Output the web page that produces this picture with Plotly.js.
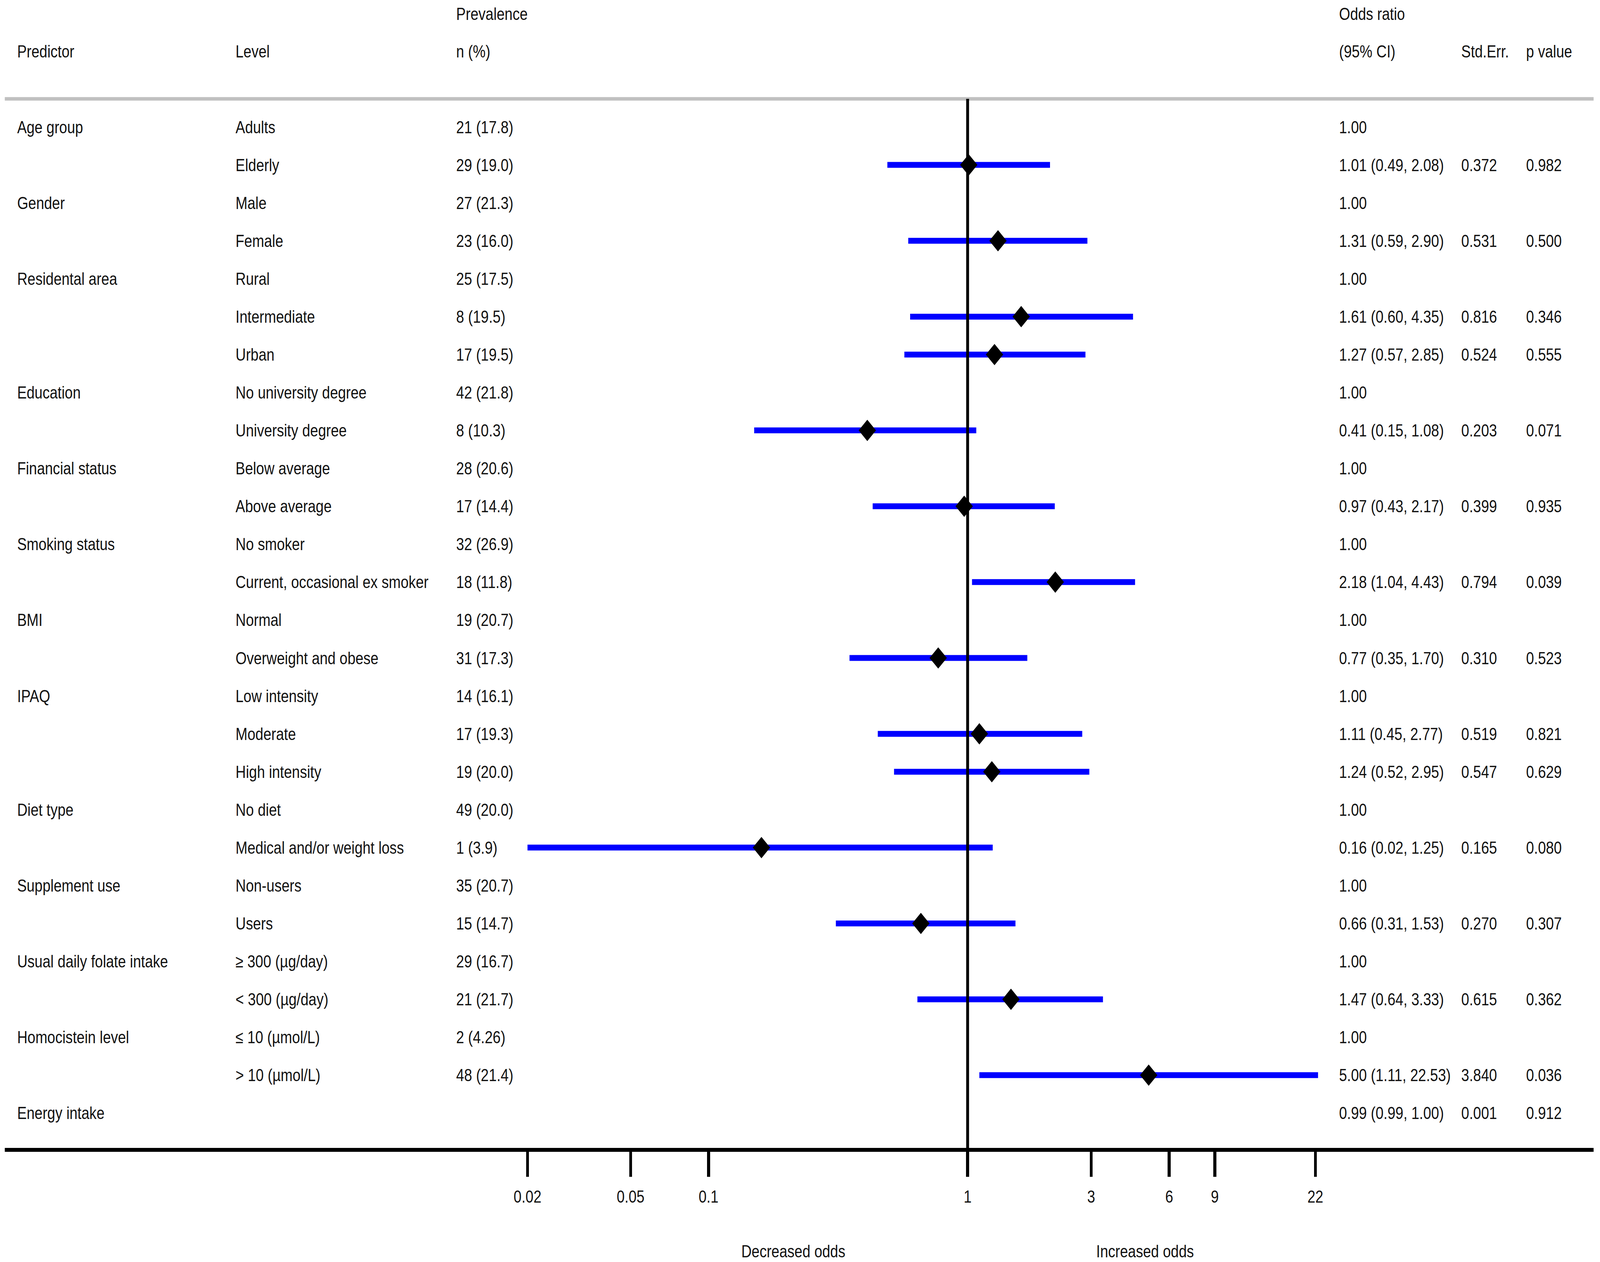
<!DOCTYPE html>
<html>
<head>
<meta charset="utf-8">
<script src="https://cdn.plot.ly/plotly-3.0.1.min.js"></script>
<style>html,body{margin:0;padding:0;background:#fff;overflow:hidden;}#chart{position:absolute;left:0;top:0;width:5040px;height:3230px;transform-origin:0 0;}</style>
</head>
<body>
<div id="chart"></div>
<script>
const predictors = ["Age group","","Gender","","Residental area","","","Education","","Financial status","","Smoking status","","BMI","","IPAQ","","","Diet type","","Supplement use","","Usual daily folate intake","","Homocistein level","","Energy intake"];
const levels = ["Adults","Elderly","Male","Female","Rural","Intermediate","Urban","No university degree","University degree","Below average","Above average","No smoker","Current, occasional ex smoker","Normal","Overweight and obese","Low intensity","Moderate","High intensity","No diet","Medical and/or weight loss","Non-users","Users","≥ 300 (µg/day)","< 300 (µg/day)","≤ 10 (µmol/L)","> 10 (µmol/L)",""];
const prevalence = ["21 (17.8)","29 (19.0)","27 (21.3)","23 (16.0)","25 (17.5)","8 (19.5)","17 (19.5)","42 (21.8)","8 (10.3)","28 (20.6)","17 (14.4)","32 (26.9)","18 (11.8)","19 (20.7)","31 (17.3)","14 (16.1)","17 (19.3)","19 (20.0)","49 (20.0)","1 (3.9)","35 (20.7)","15 (14.7)","29 (16.7)","21 (21.7)","2 (4.26)","48 (21.4)",""];
const orLabels = ["1.00","1.01 (0.49, 2.08)","1.00","1.31 (0.59, 2.90)","1.00","1.61 (0.60, 4.35)","1.27 (0.57, 2.85)","1.00","0.41 (0.15, 1.08)","1.00","0.97 (0.43, 2.17)","1.00","2.18 (1.04, 4.43)","1.00","0.77 (0.35, 1.70)","1.00","1.11 (0.45, 2.77)","1.24 (0.52, 2.95)","1.00","0.16 (0.02, 1.25)","1.00","0.66 (0.31, 1.53)","1.00","1.47 (0.64, 3.33)","1.00","5.00 (1.11, 22.53)","0.99 (0.99, 1.00)"];
const stdErr = ["","0.372","","0.531","","0.816","0.524","","0.203","","0.399","","0.794","","0.310","","0.519","0.547","","0.165","","0.270","","0.615","","3.840","0.001"];
const pValues = ["","0.982","","0.500","","0.346","0.555","","0.071","","0.935","","0.039","","0.523","","0.821","0.629","","0.080","","0.307","","0.362","","0.036","0.912"];
const orValues = [null,1.01,null,1.31,null,1.61,1.27,null,0.41,null,0.97,null,2.18,null,0.77,null,1.11,1.24,null,0.16,null,0.66,null,1.47,null,5.00,null];
const ciLow = [null,0.49,null,0.59,null,0.60,0.57,null,0.15,null,0.43,null,1.04,null,0.35,null,0.45,0.52,null,0.02,null,0.31,null,0.64,null,1.11,null];
const ciHigh = [null,2.08,null,2.90,null,4.35,2.85,null,1.08,null,2.17,null,4.43,null,1.70,null,2.77,2.95,null,1.25,null,1.53,null,3.33,null,22.53,null];
const tickVals = [0.02,0.05,0.1,1,3,6,9,22];
const tickText = ["0.02","0.05","0.1","1","3","6","9","22"];
const headers1 = {prev:"Prevalence", or:"Odds ratio"};
const headers2 = {pred:"Predictor", level:"Level", prev:"n (%)", or:"(95% CI)", se:"Std.Err.", p:"p value"};

// fit the 5040x3230 drawing to whatever window the page is opened in
const chartDiv = document.getElementById('chart');
const sx = (window.innerWidth || 5040) / 5040;
const sy = (window.innerHeight || 3230) / 3230;
chartDiv.style.transform = 'scale(' + sx + ',' + sy + ')';

const FONT = "Liberation Sans, Arial, Helvetica, sans-serif";
const FS = 45;
const TXT = '#111111';
const rows = levels.map((_, i) => i);

const segX = [], segY = [];
rows.forEach(i => {
  if (orValues[i] !== null) { segX.push(ciLow[i], ciHigh[i], null); segY.push(i, i, null); }
});
const ptX = [], ptY = [];
rows.forEach(i => { if (orValues[i] !== null) { ptX.push(orValues[i]); ptY.push(i); } });

const traces = [
  {type:'scatter', mode:'lines', x:segX, y:segY, line:{color:'#0000FF', width:15}, hoverinfo:'skip', showlegend:false, connectgaps:false},
  {type:'scatter', mode:'markers', x:ptX, y:ptY, marker:{symbol:'diamond', size:42, color:'#000000', line:{width:0}}, showlegend:false}
];

const colX = {pred:52/5040, level:740/5040, prev:1435/5040, or:4216/5040, se:4601/5040, p:4805/5040};
const ann = [];
function txt(x, y, xref, yref, t, anchor) {
  return {xref:xref, yref:yref, x:x, y:y, text:t, showarrow:false, xanchor:anchor || 'left', yanchor:'middle', font:{family:FONT, size:FS, color:TXT}};
}
function addCol(arr, key) {
  arr.forEach((t, i) => { if (t) ann.push(txt(colX[key], i, 'paper', 'y', t)); });
}
addCol(predictors, 'pred');
addCol(levels, 'level');
addCol(prevalence, 'prev');
addCol(orLabels, 'or');
addCol(stdErr, 'se');
addCol(pValues, 'p');
Object.keys(headers1).forEach(k => ann.push(txt(colX[k], 1.081, 'paper', 'paper', headers1[k])));
Object.keys(headers2).forEach(k => ann.push(txt(colX[k], 1.045, 'paper', 'paper', headers2[k])));
ann.push(txt(2499/5040, -0.0966, 'paper', 'paper', "Decreased odds", 'center'));
ann.push(txt(3607/5040, -0.0966, 'paper', 'paper', "Increased odds", 'center'));

const layout = {
  width:5040, height:3230,
  margin:{l:0, r:0, t:253, b:287, pad:0},
  paper_bgcolor:'#ffffff', plot_bgcolor:'#ffffff',
  showlegend:false,
  xaxis:{type:'log', range:[-3.7353, 2.4412], showgrid:false, zeroline:false, showline:false,
    tickmode:'array', tickvals:tickVals, ticktext:tickText, ticks:'outside', ticklen:68, tickwidth:9, tickcolor:'#000',
    ticklabelstandoff:12,
    tickfont:{family:FONT, size:FS, color:TXT}, fixedrange:true},
  yaxis:{range:[26.97, -0.742], showgrid:false, zeroline:false, showline:false, showticklabels:false, ticks:'', fixedrange:true},
  shapes:[
    {type:'line', xref:'paper', yref:'paper', x0:0.003, x1:0.996, y0:1, y1:1, line:{color:'#c0c0c0', width:9}},
    {type:'line', xref:'paper', yref:'paper', x0:0.003, x1:0.996, y0:0, y1:0, line:{color:'#000', width:10}},
    {type:'line', xref:'x', yref:'paper', x0:1, x1:1, y0:0, y1:1, line:{color:'#000', width:9}, layer:'above'}
  ],
  annotations:ann
};
Plotly.newPlot('chart', traces, layout, {staticPlot:true, displayModeBar:false});
</script>
</body>
</html>
